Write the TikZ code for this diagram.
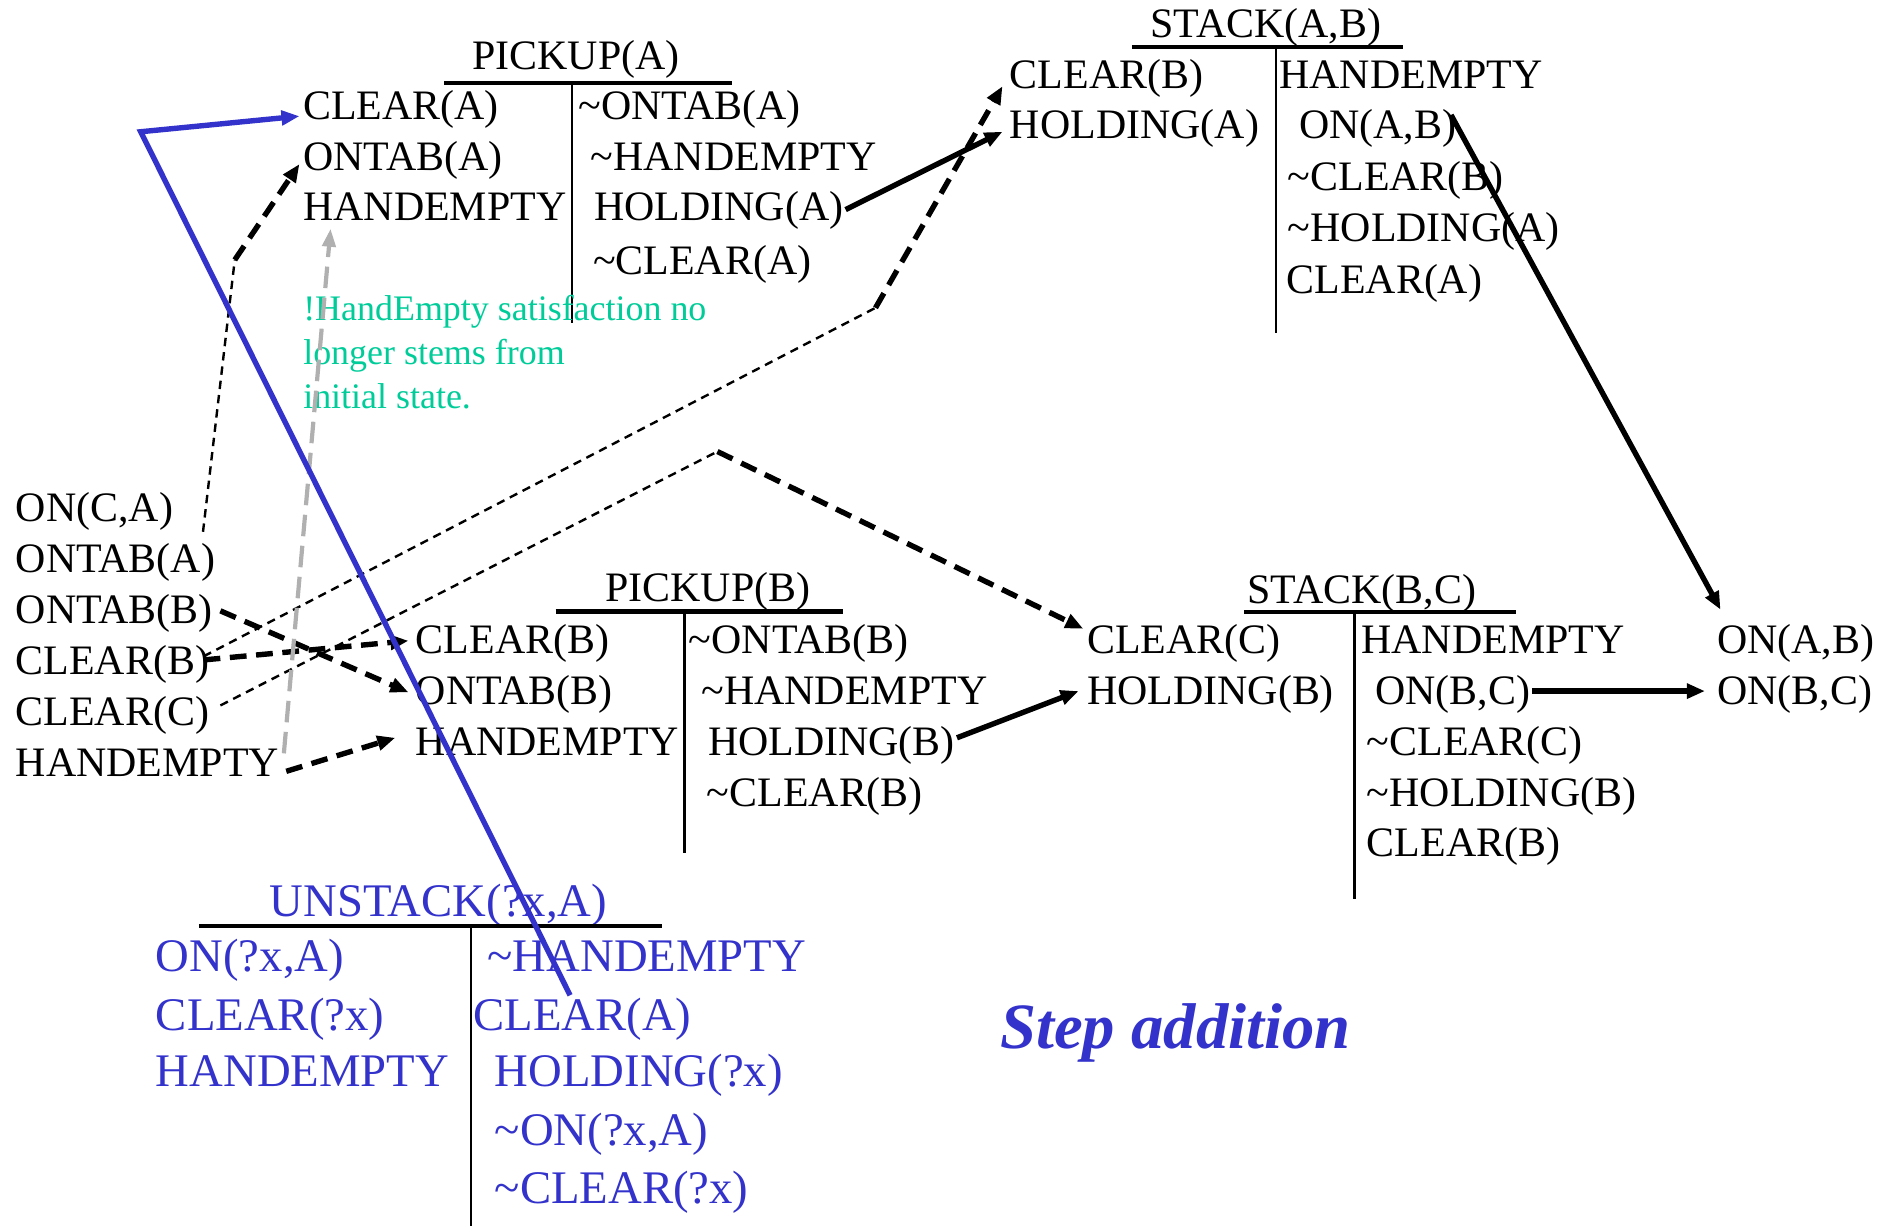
\documentclass[tikz,border=0pt]{standalone}
\usepackage{fontspec}
\setmainfont{Liberation Serif}
\usetikzlibrary{arrows.meta}
\definecolor{opblue}{HTML}{3333CC}
\definecolor{notegreen}{HTML}{00CC99}
\definecolor{linkgray}{HTML}{B0B0B0}
\newcommand{\tl}{\textasciitilde}

\begin{document}
\begin{tikzpicture}[x=1pt,y=-1pt,
  lit/.style={inner sep=0pt, anchor=base west, font=\fontsize{35}{40}\selectfont},
  ttl/.style={inner sep=0pt, anchor=base, font=\fontsize{35}{40}\selectfont},
  ulit/.style={inner sep=0pt, anchor=base west, text=opblue, font=\fontsize{39}{44}\selectfont},
  uttl/.style={inner sep=0pt, anchor=base, text=opblue, font=\fontsize{39}{44}\selectfont},
  bar/.style={line width=3.5pt},
  stem/.style={line width=2pt},
  tip/.style={-{Triangle[length=15pt,width=12pt]}},
  thinlink/.style={dash pattern=on 7pt off 5pt, line width=2pt},
  thicklink/.style={dash pattern=on 14pt off 8pt, line width=4.5pt},
  solidlink/.style={line width=4.5pt},
  graylink/.style={draw=linkgray, dash pattern=on 18pt off 8pt, line width=3.5pt},
  bluelink/.style={draw=opblue, line width=4.5pt}
]
\useasboundingbox (0,0) rectangle (1568,1024);

% ---- PICKUP(A) ----
\node[ttl] (pat) at (481,58) {PICKUP(A)};
\draw[bar] (371,69.5) -- (611,69.5);
\draw[stem] (477.5,69.5) -- (477.5,270);
\node[lit] (pal1) at (253,100) {CLEAR(A)};
\node[lit] (pal2) at (253,142) {ONTAB(A)};
\node[lit] (pal3) at (253,184) {HANDEMPTY};
\node[lit] (par1) at (483,100) {\tl ONTAB(A)};
\node[lit] (par2) at (493,142) {\tl HANDEMPTY};
\node[lit] (par3) at (496,184) {HOLDING(A)};
\node[lit] (par4) at (495,229) {\tl CLEAR(A)};

% ---- STACK(A,B) ----
\node[ttl] (sabt) at (1057,31) {STACK(A,B)};
\draw[bar] (945,39) -- (1171,39);
\draw[stem] (1065.5,39) -- (1065.5,278);
\node[lit] (sabl1) at (843,74) {CLEAR(B)};
\node[lit] (sabl2) at (843,116) {HOLDING(A)};
\node[lit] (sabr1) at (1068,74) {HANDEMPTY};
\node[lit] (sabr2) at (1084.5,116) {ON(A,B)};
\node[lit] (sabr3) at (1075,159) {\tl CLEAR(B)};
\node[lit] (sabr4) at (1075,202) {\tl HOLDING(A)};
\node[lit] (sabr5) at (1074,245) {CLEAR(A)};

% ---- initial state ----
\node[lit] (i1) at (13,435.5) {ON(C,A)};
\node[lit] (i2) at (13,478) {ONTAB(A)};
\node[lit] (i3) at (13,520.5) {ONTAB(B)};
\node[lit] (i4) at (13,563) {CLEAR(B)};
\node[lit] (i5) at (13,605.5) {CLEAR(C)};
\node[lit] (i6) at (13,648) {HANDEMPTY};

% ---- PICKUP(B) ----
\node[ttl] (pbt) at (591,502.5) {PICKUP(B)};
\draw[bar] (464,510.5) -- (704,510.5);
\draw[stem] (571.5,510.5) -- (571.5,712);
\node[lit] (pbl1) at (347,545.5) {CLEAR(B)};
\node[lit] (pbl2) at (347,588) {ONTAB(B)};
\node[lit] (pbl3) at (347,630.5) {HANDEMPTY};
\node[lit] (pbr1) at (575,545.5) {\tl ONTAB(B)};
\node[lit] (pbr2) at (585.5,588) {\tl HANDEMPTY};
\node[lit] (pbr3) at (591,630.5) {HOLDING(B)};
\node[lit] (pbr4) at (590,673.5) {\tl CLEAR(B)};

% ---- STACK(B,C) ----
\node[ttl] (sbct) at (1137,503.5) {STACK(B,C)};
\draw[bar] (1039,511) -- (1266,511);
\draw[stem] (1131,511) -- (1131,751);
\node[lit] (sbcl1) at (907.5,545.5) {CLEAR(C)};
\node[lit] (sbcl2) at (907.5,588) {HOLDING(B)};
\node[lit] (sbcr1) at (1136.5,545.5) {HANDEMPTY};
\node[lit] (sbcr2) at (1148,588) {ON(B,C)};
\node[lit] (sbcr3) at (1141,630.5) {\tl CLEAR(C)};
\node[lit] (sbcr4) at (1141,673) {\tl HOLDING(B)};
\node[lit] (sbcr5) at (1141,715.5) {CLEAR(B)};

% ---- goal ----
\node[lit] (g1) at (1433.5,546) {ON(A,B)};
\node[lit] (g2) at (1433.5,588.5) {ON(B,C)};

% ---- UNSTACK(?x,A) ----
\node[uttl] (ut) at (366,765.5) {UNSTACK(?x,A)};
\draw[bar] (166,773) -- (553,773);
\draw[stem] (393,773) -- (393,1024);
\node[ulit] (ul1) at (130,811) {ON(?x,A)};
\node[ulit] (ul2) at (130,860) {CLEAR(?x)};
\node[ulit] (ul3) at (130,907.5) {HANDEMPTY};
\node[ulit] (ur1) at (407,811) {\tl HANDEMPTY};
\node[ulit] (ur2) at (395,860) {CLEAR(A)};
\node[ulit] (ur3) at (413,907.5) {HOLDING(?x)};
\node[ulit] (ur4) at (413,956) {\tl ON(?x,A)};
\node[ulit] (ur5) at (413,1004.5) {\tl CLEAR(?x)};

% ---- note and caption ----
\node[inner sep=0pt, anchor=north west, align=left, text=notegreen,
      font=\fontsize{30}{37}\selectfont] (note) at (253,246)
  {!HandEmpty satisfaction no\\longer stems from\\initial state.};
\node[inner sep=0pt, anchor=base west, text=opblue,
      font=\fontsize{54}{60}\selectfont\bfseries\itshape] (cap) at (835,875) {Step addition};

% ---- bends of the causal links ----
\coordinate (kA) at (196,217);
\coordinate (kB) at (731,257);
\coordinate (kC) at (599,377);
\coordinate (kU) at (117.5,110);

% ---- causal links ----
\draw[thinlink] ([shift={(156.5,8.5)}]i1.base west) -- (kA);
\draw[thicklink,tip] (kA) -- ([shift={(-3,-5)}]pal2.base west);

\draw[thicklink,tip] ([shift={(171,-10.5)}]i3.base west) -- ([shift={(-6,-10)}]pbl2.base west);
\draw[thicklink,tip] ([shift={(157,-12)}]i4.base west) -- ([shift={(-6,-10.5)}]pbl1.base west);

\draw[thinlink] ([shift={(157,-15)}]i4.base west) -- (kB);
\draw[thicklink,tip] (kB) -- ([shift={(-6,-2)}]sabl1.base west);

\draw[thinlink] ([shift={(171,-16.5)}]i5.base west) -- (kC);
\draw[thicklink,tip] (kC) -- ([shift={(-3,-20.5)}]sbcl1.base west);

\draw[thicklink,tip] ([shift={(226,-4)}]i6.base west) -- ([shift={(-17,-14.5)}]pbl3.base west);

\draw[graylink,-{Triangle[length=15pt,width=11pt]},color=linkgray]
  ([shift={(224,-19)}]i6.base west) -- ([shift={(23,7)}]pal3.base west);

\draw[solidlink,tip] ([shift={(210,-9)}]par3.base west) -- ([shift={(-6,-6)}]sabl2.base west);
\draw[solidlink,tip] ([shift={(127,-20)}]sabr2.base west) -- ([shift={(3,-37)}]g1.base west);
\draw[solidlink,tip] ([shift={(208,-14.5)}]pbr3.base west) -- ([shift={(-7,-11)}]sbcl2.base west);
\draw[solidlink,tip] ([shift={(131,-11)}]sbcr2.base west) -- ([shift={(-10,-11.5)}]g2.base west);

\draw[bluelink,line join=miter,-{Triangle[length=15pt,width=12pt]},color=opblue]
  ([shift={(81,-29)}]ur2.base west) -- (kU) -- ([shift={(-3,-3)}]pal1.base west);
\end{tikzpicture}
\end{document}
